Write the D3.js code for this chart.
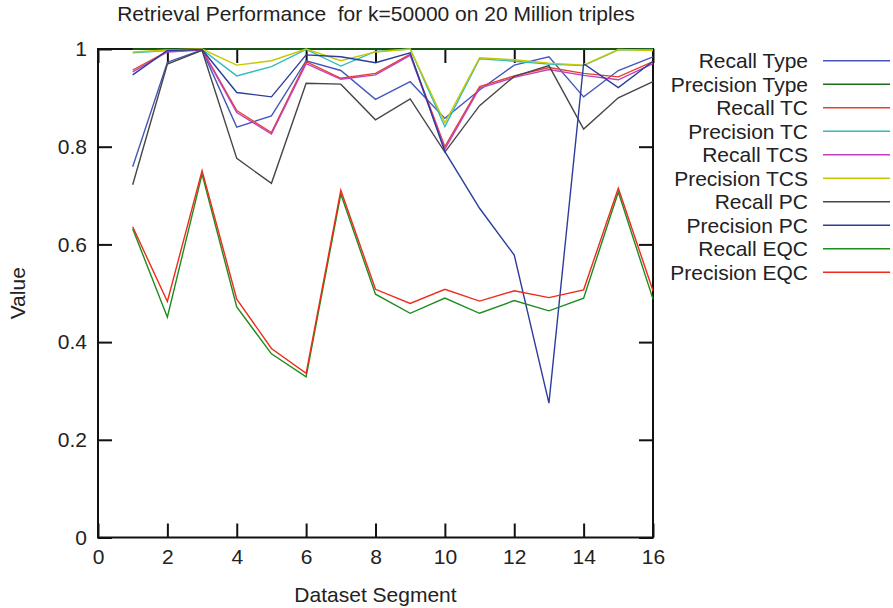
<!DOCTYPE html>
<html>
<head>
<meta charset="utf-8">
<script src="https://cdn.jsdelivr.net/npm/d3@7"></script>
<style>
  body { margin: 0; background: #fff; }
  svg text { font-family: "Liberation Sans", Arial, Helvetica, sans-serif; fill: #222; }
</style>
</head>
<body>
<div id="chart"></div>
<script>
// chart size
const width = 893
const height = 608

// data
const segments = [1, 2, 3, 4, 5, 6, 7, 8, 9, 10, 11, 12, 13, 14, 15, 16]
const recallType = [0.759, 0.973, 0.998, 0.840, 0.863, 0.976, 0.956, 0.897, 0.933, 0.858, 0.916, 0.967, 0.984, 0.902, 0.956, 0.984]
const precisionType = [1, 1, 1, 1, 1, 1, 1, 1, 1, 1, 1, 1, 1, 1, 1, 1]
const recallTC = [0.957, 0.995, 0.999, 0.874, 0.829, 0.974, 0.940, 0.950, 0.989, 0.800, 0.923, 0.945, 0.962, 0.950, 0.943, 0.974]
const precisionTC = [0.992, 0.997, 0.999, 0.945, 0.964, 0.999, 0.965, 0.995, 1.0, 0.841, 0.980, 0.975, 0.969, 0.966, 0.998, 0.999]
const recallTCS = [0.953, 0.994, 0.998, 0.870, 0.826, 0.970, 0.938, 0.947, 0.987, 0.795, 0.920, 0.942, 0.958, 0.946, 0.937, 0.970]
const precisionTCS = [0.994, 0.998, 1.0, 0.967, 0.976, 1.0, 0.976, 0.994, 1.0, 0.849, 0.982, 0.978, 0.971, 0.967, 0.999, 0.997]
const recallPC = [0.722, 0.969, 0.997, 0.776, 0.725, 0.930, 0.928, 0.855, 0.898, 0.789, 0.884, 0.944, 0.966, 0.836, 0.900, 0.933]
const precisionPC = [0.947, 0.997, 0.999, 0.911, 0.902, 0.988, 0.984, 0.972, 0.992, 0.790, 0.674, 0.578, 0.275, 0.970, 0.921, 0.975]
const recallEQC = [0.632, 0.451, 0.744, 0.472, 0.376, 0.329, 0.703, 0.498, 0.459, 0.490, 0.459, 0.485, 0.464, 0.490, 0.707, 0.488]
const precisionEQC = [0.636, 0.483, 0.751, 0.488, 0.387, 0.336, 0.711, 0.508, 0.479, 0.508, 0.484, 0.505, 0.491, 0.507, 0.715, 0.505]

const seriesNames = ["Recall Type", "Precision Type", "Recall TC", "Precision TC", "Recall TCS",
                     "Precision TCS", "Recall PC", "Precision PC", "Recall EQC", "Precision EQC"]
const seriesValues = [recallType, precisionType, recallTC, precisionTC, recallTCS,
                      precisionTCS, recallPC, precisionPC, recallEQC, precisionEQC]
const seriesColors = ["#4657bb", "#1b6b1b", "#e8402a", "#2ebcbc", "#c040c0",
                      "#c8c800", "#464646", "#2b3d9c", "#1c8c1c", "#ee2b1b"]

const xTicks = [0, 2, 4, 6, 8, 10, 12, 14, 16]
const yTicks = [0, 0.2, 0.4, 0.6, 0.8, 1]

// plot box
const margin = {left: 98, right: 653, top: 49, bottom: 537.5}
const tickLen = 14
const fontSize = "21px"

const x = d3.scaleLinear().domain([0, 16]).range([margin.left, margin.right])
const y = d3.scaleLinear().domain([0, 1]).range([margin.bottom, margin.top])

const svg = d3.select("#chart")
  .append("svg")
  .attr("width", width)
  .attr("height", height)

// title
svg.append("text")
  .attr("x", 376)
  .attr("y", 21)
  .attr("text-anchor", "middle")
  .attr("xml:space", "preserve")
  .style("white-space", "pre")
  .style("font-size", fontSize)
  .text("Retrieval Performance  for k=50000 on 20 Million triples")

// border
svg.append("rect")
  .attr("x", margin.left)
  .attr("y", margin.top)
  .attr("width", margin.right - margin.left)
  .attr("height", margin.bottom - margin.top)
  .attr("fill", "none")
  .attr("stroke", "#111")
  .attr("stroke-width", 2)

// axes: gnuplot style ticks pointing in, mirrored
const bottomAxis = d3.axisBottom(x).tickValues(xTicks).tickSize(-tickLen).tickPadding(12).tickFormat(d3.format("d"))
const topAxis = d3.axisTop(x).tickValues(xTicks).tickSize(-tickLen).tickFormat("")
const leftAxis = d3.axisLeft(y).tickValues(yTicks).tickSize(-tickLen).tickPadding(11).tickFormat(d => d)
const rightAxis = d3.axisRight(y).tickValues(yTicks).tickSize(-tickLen).tickFormat("")

function styleAxis(g) {
  g.select(".domain").remove()
  g.selectAll(".tick line").attr("stroke", "#111").attr("stroke-width", 2)
  g.selectAll(".tick text").style("font-size", fontSize).attr("fill", "#222")
}

svg.append("g").attr("transform", `translate(0,${margin.bottom})`).call(bottomAxis).call(styleAxis)
svg.append("g").attr("transform", `translate(0,${margin.top})`).call(topAxis).call(styleAxis)
svg.append("g").attr("transform", `translate(${margin.left},0)`).call(leftAxis).call(styleAxis)
svg.append("g").attr("transform", `translate(${margin.right},0)`).call(rightAxis).call(styleAxis)

// axis titles
svg.append("text")
  .attr("x", (margin.left + margin.right) / 2)
  .attr("y", 602)
  .attr("text-anchor", "middle")
  .style("font-size", fontSize)
  .text("Dataset Segment")

svg.append("text")
  .attr("transform", `translate(25,${(margin.top + margin.bottom) / 2}) rotate(-90)`)
  .attr("text-anchor", "middle")
  .style("font-size", fontSize)
  .text("Value")

// lines
const line = d3.line()
  .x((d, i) => x(segments[i]))
  .y(d => y(d))

svg.append("g")
  .selectAll("path")
  .data(seriesValues)
  .enter()
  .append("path")
  .attr("d", d => line(d))
  .attr("fill", "none")
  .attr("stroke", (d, i) => seriesColors[i])
  .attr("stroke-width", 1.4)
  .attr("stroke-linejoin", "miter")

// legend
const legend = svg.append("g")
  .selectAll("g")
  .data(seriesNames)
  .enter()
  .append("g")
  .attr("transform", (d, i) => `translate(0,${60.7 + i * 23.5})`)

legend.append("text")
  .attr("x", 808)
  .attr("y", 7.5)
  .attr("text-anchor", "end")
  .style("font-size", fontSize)
  .text(d => d)

legend.append("line")
  .attr("x1", 823)
  .attr("x2", 890)
  .attr("y1", 0)
  .attr("y2", 0)
  .attr("stroke", (d, i) => seriesColors[i])
  .attr("stroke-width", 1.4)
</script>
</body>
</html>
